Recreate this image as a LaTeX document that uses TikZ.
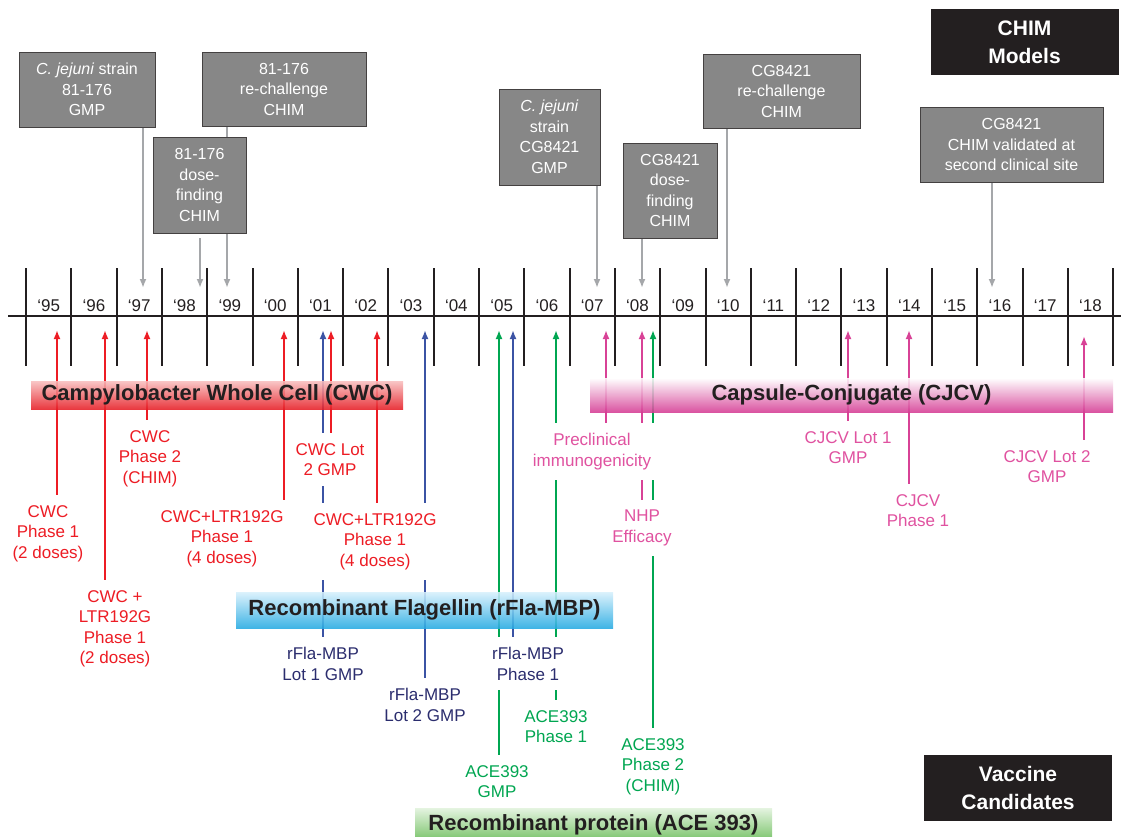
\documentclass[tikz,border=0pt]{standalone}
\usepackage{fontspec}
\setmainfont{Liberation Sans}
\usepackage{tikz}
\usetikzlibrary{arrows.meta,backgrounds}

\definecolor{cwcred}{RGB}{237,28,36}
\definecolor{flablue}{RGB}{59,83,164}
\definecolor{flatext}{RGB}{43,45,110}
\definecolor{acegreen}{RGB}{0,166,81}
\definecolor{cjcvpink}{RGB}{216,66,150}
\definecolor{cjcvtext}{RGB}{224,82,160}
\definecolor{chimfill}{RGB}{135,135,135}
\definecolor{chimline}{RGB}{165,167,170}
\definecolor{darkbox}{RGB}{35,31,32}
\definecolor{cwctop}{RGB}{248,190,190}
\definecolor{cwcbot}{RGB}{230,30,38}
\definecolor{flatop}{RGB}{215,240,252}
\definecolor{flabot}{RGB}{38,170,226}
\definecolor{cjcvbot}{RGB}{213,60,148}
\definecolor{acetop}{RGB}{225,242,220}
\definecolor{acebot}{RGB}{98,185,80}

\tikzset{
	chimbox/.style={draw=darkbox!85, line width=0.8pt, fill=chimfill, text=white, align=center, inner sep=0pt, font=\fontsize{16}{20.5}\selectfont},
	titlebox/.style={fill=darkbox, text=white, align=center, inner sep=0pt, minimum width=188pt, minimum height=66pt, font=\bfseries\fontsize{21}{28}\selectfont},
	banner/.style={fill opacity=0.88, text opacity=1, text=darkbox, inner sep=0pt, font=\bfseries\fontsize{22}{26}\selectfont},
	lbl/.style={anchor=north, align=center, fill=white, inner xsep=4pt, inner ysep=10pt, font=\fontsize{17}{20.5}\selectfont},
	evt/.style={-{Latex[length=9pt,width=7pt]}, line width=1.8pt},
	chimarrow/.style={evt, draw=chimline, fill=chimline},
	axisline/.style={line width=2.4pt, draw=darkbox},
	tickline/.style={line width=2pt, draw=darkbox},
	yearlbl/.style={anchor=base, text=darkbox, font=\fontsize{17}{20}\selectfont}
}

\begin{document}
\begin{tikzpicture}[x=1pt,y=-1pt]
	\useasboundingbox (0,0) rectangle (1121,837);

	\coordinate (axisL) at (8,316);
	\coordinate (axisR) at (1121,316);
	\draw[axisline] (axisL) -- (axisR);
	\foreach \i in {0,...,24}
		\draw[tickline] ({26+45.3*\i},268) -- ({26+45.3*\i},366);
	\foreach \yr [count=\i from 0] in {95,96,97,98,99,00,01,02,03,04,05,06,07,08,09,10,11,12,13,14,15,16,17,18}
		\node[yearlbl] (y\yr) at ({48.65+45.3*\i},311) {‘\yr};

	\foreach \n/\x in {A/143,B/227,C/200,D/597,E/642,F/727,G/992}
		\coordinate (g\n) at (\x,288);
	\foreach \n/\x in {r1/57,r2/105,r3/147,r4/284,r5/331,r6/377,b1/323,b2/425,b3/513,g1/499,g2/556,g3/653,p1/606,p2/642,p3/848,p4/909}
		\coordinate (t\n) at (\x,330);
	\coordinate (tp5) at (1084,336);

	\node[chimbox, minimum width=136pt, minimum height=75pt] (strainA) at (87,89.5) {\textit{C. jejuni} strain\\81-176\\GMP};
	\node[chimbox, minimum width=164pt, minimum height=74pt] (rechalA) at (284,89) {81-176\\re-challenge\\CHIM};
	\node[chimbox, minimum width=93pt, minimum height=96pt] (doseA) at (199.5,185) {81-176\\dose-\\finding\\CHIM};
	\node[chimbox, minimum width=101pt, minimum height=96pt] (strainB) at (549.5,137) {\textit{C. jejuni}\\strain\\CG8421\\GMP};
	\node[chimbox, minimum width=94pt, minimum height=95pt] (doseB) at (670,190.5) {CG8421\\dose-\\finding\\CHIM};
	\node[chimbox, minimum width=157pt, minimum height=74pt] (rechalB) at (781.5,91) {CG8421\\re-challenge\\CHIM};
	\node[chimbox, minimum width=183pt, minimum height=75pt] (siteB) at (1011.5,144.5) {CG8421\\CHIM validated at\\second clinical site};

	\node[titlebox] (chimttl) at (1024.5,42) {CHIM\\Models};
	\node[titlebox] (vacttl) at (1018,788) {Vaccine\\Candidates};

	\node[banner, top color=cwctop, bottom color=cwcbot, minimum width=372pt, minimum height=28pt] (cwcbar) at (217,395) {Campylobacter Whole Cell (CWC)};
	\node[banner, top color=flatop, bottom color=flabot, minimum width=377pt, minimum height=36pt] (flabar) at (424.5,610) {Recombinant Flagellin (rFla-MBP)};
	\node[banner, top color=white, bottom color=cjcvbot, minimum width=523pt, minimum height=34pt] (cjcvbar) at (851.5,395) {Capsule-Conjugate (CJCV)};
	\node[banner, top color=acetop, bottom color=acebot, minimum width=357pt, minimum height=34pt] (acebar) at (593.5,825) {Recombinant protein (ACE 393)};

	\node[lbl, text=cwcred] (cwcA) at (48,495) {CWC\\Phase 1\\(2 doses)};
	\node[lbl, text=cwcred] (cwcB) at (115,580) {CWC +\\LTR192G\\Phase 1\\(2 doses)};
	\node[lbl, text=cwcred] (cwcC) at (150,420) {CWC\\Phase 2\\(CHIM)};
	\node[lbl, text=cwcred] (cwcD) at (222,500) {CWC+LTR192G\\Phase 1\\(4 doses)};
	\node[lbl, text=cwcred] (cwcE) at (330,433) {CWC Lot\\2 GMP};
	\node[lbl, text=cwcred] (cwcF) at (375,503) {CWC+LTR192G\\Phase 1\\(4 doses)};
	\node[lbl, text=flatext] (flaA) at (323,637) {rFla-MBP\\Lot 1 GMP};
	\node[lbl, text=flatext] (flaB) at (425,678) {rFla-MBP\\Lot 2 GMP};
	\node[lbl, text=flatext] (flaC) at (528,637) {rFla-MBP\\Phase 1};
	\node[lbl, text=acegreen] (aceA) at (497,755) {ACE393\\GMP};
	\node[lbl, text=acegreen] (aceB) at (556,700) {ACE393\\Phase 1};
	\node[lbl, text=acegreen] (aceC) at (653,728) {ACE393\\Phase 2\\(CHIM)};
	\node[lbl, text=cjcvtext] (cjcvA) at (592,423) {Preclinical\\immunogenicity};
	\node[lbl, text=cjcvtext] (cjcvB) at (642,500) {NHP\\Efficacy};
	\node[lbl, text=cjcvtext] (cjcvC) at (848,421) {CJCV Lot 1\\GMP};
	\node[lbl, text=cjcvtext] (cjcvD) at (918,484) {CJCV\\Phase 1};
	\node[lbl, text=cjcvtext] (cjcvE) at (1047,440) {CJCV Lot 2\\GMP};

	\begin{scope}[on background layer]
		\draw[chimarrow] (strainA.south -| gA) -- (gA);
		\draw[chimarrow] (rechalA.south -| gB) -- (gB);
		\draw[chimarrow, shorten <=5pt] (doseA.south -| gC) -- (gC);
		\draw[chimarrow] (strainB.south -| gD) -- (gD);
		\draw[chimarrow] (doseB.south -| gE) -- (gE);
		\draw[chimarrow] (rechalB.south -| gF) -- (gF);
		\draw[chimarrow] (siteB.south -| gG) -- (gG);

		\draw[evt, cwcred] (cwcA.north -| tr1) -- (tr1);
		\draw[evt, cwcred] (cwcB.north -| tr2) -- (tr2);
		\draw[evt, cwcred] (cwcC.north -| tr3) -- (tr3);
		\draw[evt, cwcred] (cwcD.north -| tr4) -- (tr4);
		\draw[evt, cwcred] (cwcE.north -| tr5) -- (tr5);
		\draw[evt, cwcred] (cwcF.north -| tr6) -- (tr6);
		\draw[evt, flablue] (flaA.north -| tb1) -- (tb1);
		\draw[evt, flablue] (flaB.north -| tb2) -- (tb2);
		\draw[evt, flablue] (flaC.north -| tb3) -- (tb3);
		\draw[evt, acegreen] (aceA.north -| tg1) -- (tg1);
		\draw[evt, acegreen] (aceB.north -| tg2) -- (tg2);
		\draw[evt, acegreen] (aceC.north -| tg3) -- (tg3);
		\draw[evt, cjcvpink] (cjcvA.north -| tp1) -- (tp1);
		\draw[evt, cjcvpink] (cjcvB.north -| tp2) -- (tp2);
		\draw[evt, cjcvpink] (cjcvC.north -| tp3) -- (tp3);
		\draw[evt, cjcvpink] (cjcvD.north -| tp4) -- (tp4);
		\draw[evt, cjcvpink] (cjcvE.north -| tp5) -- (tp5);
	\end{scope}
\end{tikzpicture}
\end{document}
